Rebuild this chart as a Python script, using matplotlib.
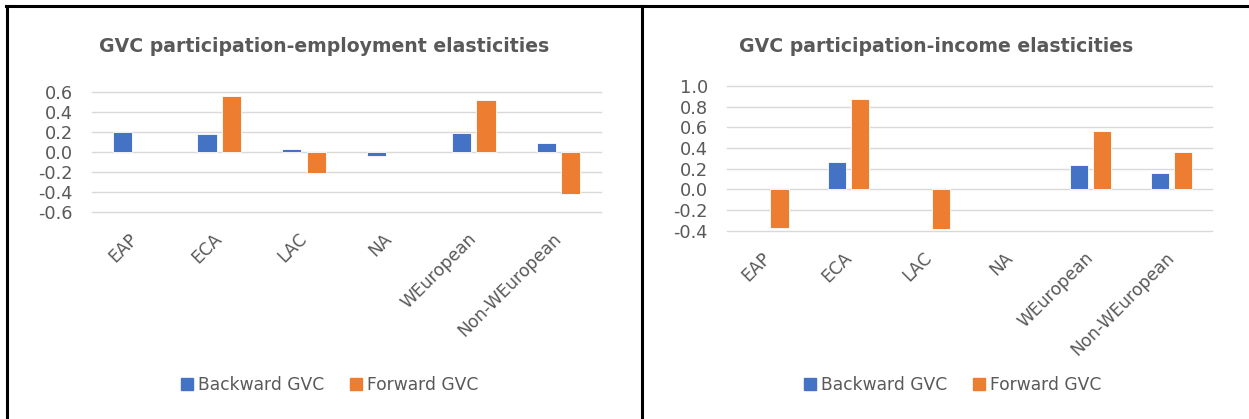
import matplotlib.pyplot as plt
import numpy as np
from matplotlib.lines import Line2D
from matplotlib.transforms import ScaledTranslation

regions = ["EAP", "ECA", "LAC", "NA", "WEuropean", "Non-WEuropean"]

# employment elasticities
emp_backward = [0.20, 0.18, 0.03, -0.045, 0.19, 0.09]
emp_forward = [np.nan, 0.56, -0.21, np.nan, 0.52, -0.42]

# income elasticities
inc_backward = [np.nan, 0.26, np.nan, np.nan, 0.24, 0.155]
inc_forward = [-0.37, 0.87, -0.38, np.nan, 0.56, 0.36]

emp_ticks = [-0.6, -0.4, -0.2, 0.0, 0.2, 0.4, 0.6]
inc_ticks = [-0.4, -0.2, 0.0, 0.2, 0.4, 0.6, 0.8, 1.0]

BLUE = "#4472C4"
ORANGE = "#ED7D31"
GRID = "#D9D9D9"
TEXT = "#595959"
FONT = "DejaVu Sans"

W, H = 1249, 419
fig = plt.figure(figsize=(W / 100, H / 100), dpi=100)
fig.patch.set_facecolor("white")


def px_axes(x0, x1, ytop, ybot):
    return fig.add_axes([x0 / W, 1 - ybot / H, (x1 - x0) / W, (ybot - ytop) / H])


def draw_panel(ax, backward, forward, ticks, title, title_x, legend_x):
    x = np.arange(len(regions))
    bw = 0.226
    off = 0.145
    ax.bar(x - off, backward, bw, color=BLUE, edgecolor="white", linewidth=0.6, zorder=3)
    ax.bar(x + off, forward, bw, color=ORANGE, edgecolor="white", linewidth=0.6, zorder=3)
    ax.set_xlim(-0.5, len(regions) - 0.5)
    ax.set_ylim(ticks[0], ticks[-1])
    ax.set_yticks(ticks)
    ax.set_yticklabels([f"{t:.1f}" for t in ticks], fontsize=12.8, color=TEXT, family=FONT)
    for t in ticks:
        ax.axhline(t, color=GRID, linewidth=1.0, zorder=1, clip_on=False)
    ax.set_xticks(x)
    ax.set_xticklabels(regions, rotation=45, ha="right", rotation_mode="anchor",
                       fontsize=12.3, color=TEXT, family=FONT)
    ax.tick_params(axis="both", length=0)
    ax.tick_params(axis="x", pad=13)
    ax.tick_params(axis="y", pad=14)
    # nudge the slanted category labels slightly left of the tick
    shift = ScaledTranslation(-6 / 100, 0, fig.dpi_scale_trans)
    for lab in ax.get_xticklabels():
        lab.set_transform(lab.get_transform() + shift)
    for s in ax.spines.values():
        s.set_visible(False)
    ax.set_facecolor("none")
    fig.text(title_x / W, 1 - 52 / H, title, ha="center", va="baseline",
             fontsize=13.6, fontweight="bold", color=TEXT, family=FONT)
    handles = [plt.Rectangle((0, 0), 1, 1, color=BLUE), plt.Rectangle((0, 0), 1, 1, color=ORANGE)]
    fig.legend(handles, ["Backward GVC", "Forward GVC"], loc="center",
               bbox_to_anchor=(legend_x / W, 1 - 385 / H), ncol=2, frameon=False,
               prop={"family": FONT, "size": 12.3}, labelcolor=TEXT,
               handlelength=0.7, handleheight=0.7, handletextpad=0.3, columnspacing=1.5)


ax1 = px_axes(92, 601, 92, 212)
draw_panel(ax1, emp_backward, emp_forward, emp_ticks,
           "GVC participation-employment elasticities", 324.5, 330)

ax2 = px_axes(727.4, 1211.7, 86, 230.7)
draw_panel(ax2, inc_backward, inc_forward, inc_ticks,
           "GVC participation-income elasticities", 936.5, 952.5)

# panel frames
for xs, ys in [((6 / W, 1.0), (1 - 6.5 / H, 1 - 6.5 / H)),
               ((7 / W, 7 / W), (1 - 6 / H, 0)),
               ((642 / W, 642 / W), (1 - 6 / H, 0))]:
    fig.add_artist(Line2D(xs, ys, color="black", linewidth=2.2))

fig.savefig("out.png", dpi=100)
